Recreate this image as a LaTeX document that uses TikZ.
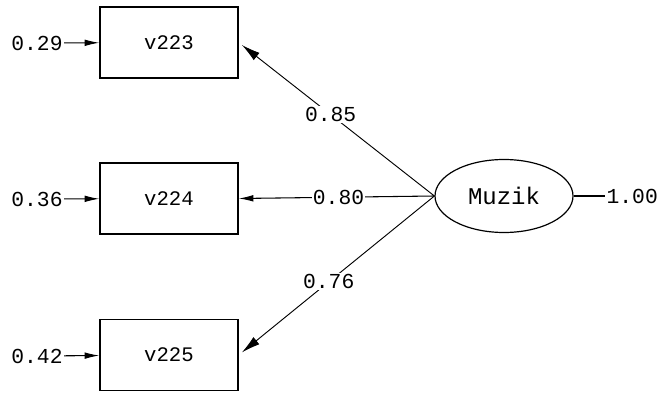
\documentclass[tikz,border=0pt]{standalone}
\usepackage{fontspec}
\setmainfont{Liberation Mono}
\usetikzlibrary{arrows.meta,shapes.geometric}

\tikzset{
  varbox/.style={draw, line width=1.1pt, minimum width=103.5pt, minimum height=53.25pt,
    inner sep=0pt, font=\fontsize{15.5}{15.5}\selectfont},
  latent/.style={draw, ellipse, line width=0.9pt, minimum width=103.5pt, minimum height=54.75pt,
    inner sep=0pt, font=\fontsize{18}{18}\selectfont},
  numlabel/.style={inner sep=1pt, font=\fontsize{16}{16}\selectfont},
  onpath/.style={numlabel, fill=white},
  errarrow/.style={line width=0.8pt, -{Latex[length=11pt,width=5pt]}},
  patharrow/.style={line width=0.7pt, -{Latex[length=14pt,width=7pt]}},
  plainline/.style={line width=0.8pt}
}

\begin{document}
\begin{tikzpicture}[x=0.75pt,y=-0.75pt]
  \useasboundingbox[fill=white] (0,0) rectangle (659,392);

  % observed indicators
  \node[varbox] (v223) at (169,42.5) {v223};
  \node[varbox] (v224) at (169,198.5) {v224};
  \node[varbox] (v225) at (169,355) {v225};

  % latent factor
  \node[latent] (muzik) at (504,196) {Muzik};

  % error variances
  \node[numlabel] (e223) at (37,43) {0.29};
  \node[numlabel] (e224) at (37,199) {0.36};
  \node[numlabel] (e225) at (37,356) {0.42};
  \draw[errarrow] (e223) -- (v223);
  \draw[errarrow] (e224) -- (v224);
  \draw[errarrow] (e225) -- (v225);

  % factor variance
  \node[numlabel, anchor=west] (fvar) at (605,196) {1.00};
  \draw[plainline] (muzik) -- (fvar);

  % loadings
  \draw[patharrow, shorten >=3pt] (muzik.west) -- node[onpath, pos=0.53] {0.85} (v223.east);
  \draw[errarrow] (muzik.west) -- node[onpath, pos=0.49] {0.80} (v224.east);
  \draw[patharrow, shorten >=3pt] (muzik.west) -- node[onpath, pos=0.54] {0.76} (v225.east);
\end{tikzpicture}
\end{document}
